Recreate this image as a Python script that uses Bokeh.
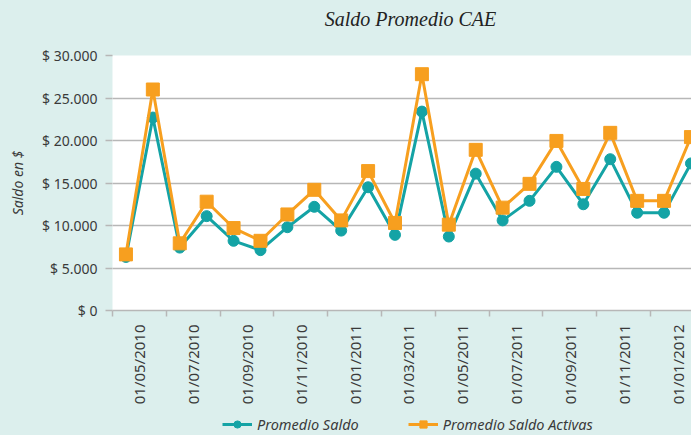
import math
from bokeh.plotting import figure
from bokeh.layouts import column
from bokeh.models import Range1d, FixedTicker, Legend, LegendItem, Label
from bokeh.embed import file_html
from bokeh.resources import INLINE

title_text = "Saldo Promedio CAE"
y_axis_title = "Saldo en $"
months = ["01/05/2010", "01/06/2010", "01/07/2010", "01/08/2010", "01/09/2010",
          "01/10/2010", "01/11/2010", "01/12/2010", "01/01/2011", "01/02/2011",
          "01/03/2011", "01/04/2011", "01/05/2011", "01/06/2011", "01/07/2011",
          "01/08/2011", "01/09/2011", "01/10/2011", "01/11/2011", "01/12/2011",
          "01/01/2012", "01/02/2012"]
promedio_saldo = [6300, 22700, 7400, 11100, 8200, 7100, 9800, 12200, 9400, 14500,
                  8900, 23400, 8700, 16100, 10600, 12900, 16900, 12500, 17800,
                  11500, 11500, 17300]
promedio_saldo_activas = [6600, 26000, 7900, 12800, 9700, 8200, 11300, 14200, 10600,
                          16400, 10300, 27800, 10100, 18900, 12100, 14900, 19950,
                          14300, 20900, 12900, 12900, 20400]
series_names = ["Promedio Saldo", "Promedio Saldo Activas"]
y_ticks = [0, 5000, 10000, 15000, 20000, 25000, 30000]
y_tick_labels = ["$ 0", "$ 5.000", "$ 10.000", "$ 15.000", "$ 20.000", "$ 25.000", "$ 30.000"]

BG = "#dcefed"
TEAL = "#14a3a5"
ORANGE = "#f79f1f"
GRID = "#b7b7b7"
TXT = "#3a3a3a"

x = list(range(len(months)))

# ---- title strip ----
pt = figure(width=691, height=40, output_backend="svg", toolbar_location=None,
            x_range=Range1d(0, 1), y_range=Range1d(0, 1),
            min_border=0, x_axis_type=None, y_axis_type=None)
pt.background_fill_color = BG
pt.border_fill_color = BG
pt.outline_line_color = None
pt.grid.visible = False
pt.add_layout(Label(x=298, y=22, x_units="screen", y_units="screen", text=title_text,
                    text_font="Liberation Serif", text_font_style="italic",
                    text_font_size="20px", text_color="#222222",
                    text_align="center", text_baseline="middle"))

# ---- main chart ----
p = figure(width=691, height=373, output_backend="svg", toolbar_location=None,
           x_range=Range1d(-0.5, 21.02), y_range=Range1d(0, 30000),
           min_border_left=112, min_border_right=0, min_border_top=15,
           min_border_bottom=103)
p.background_fill_color = "white"
p.border_fill_color = BG
p.outline_line_color = None

p.yaxis.ticker = FixedTicker(ticks=y_ticks)
p.yaxis.major_label_overrides = {t: l for t, l in zip(y_ticks, y_tick_labels)}
p.yaxis.axis_line_color = None
p.yaxis.major_tick_out = 7
p.yaxis.major_tick_in = 0
p.yaxis.major_tick_line_color = GRID
p.yaxis.major_tick_line_width = 1.5
p.yaxis.minor_tick_line_color = None
p.yaxis.major_label_text_font = "Noto Sans"
p.yaxis.major_label_text_font_size = "14px"
p.yaxis.major_label_text_color = TXT
p.yaxis.major_label_standoff = 8
p.yaxis.axis_label = y_axis_title
p.yaxis.axis_label_text_font = "Noto Sans"
p.yaxis.axis_label_text_font_style = "italic"
p.yaxis.axis_label_text_font_size = "14px"
p.yaxis.axis_label_text_color = TXT
p.yaxis.axis_label_standoff = 12

p.ygrid.ticker = FixedTicker(ticks=y_ticks)
p.ygrid.grid_line_color = GRID
p.ygrid.grid_line_width = 1.5
p.xgrid.grid_line_color = None

label_pos = [i + 0.5 for i in range(0, len(months), 2)]
bound_pos = [i - 0.5 for i in range(0, len(months) + 1, 2)]
p.xaxis.ticker = FixedTicker(ticks=label_pos, minor_ticks=bound_pos)
p.xaxis.major_label_overrides = {i + 0.5: months[i] for i in range(0, len(months), 2)}
p.xaxis.major_label_orientation = math.pi / 2
p.xaxis.major_tick_out = 0
p.xaxis.major_tick_in = 0
p.xaxis.minor_tick_out = 6
p.xaxis.minor_tick_in = 0
p.xaxis.minor_tick_line_color = GRID
p.xaxis.minor_tick_line_width = 1.5
p.xaxis.axis_line_color = GRID
p.xaxis.axis_line_width = 1.5
p.xaxis.major_label_text_font = "Noto Sans"
p.xaxis.major_label_text_font_size = "15px"
p.xaxis.major_label_text_color = TXT
p.xaxis.major_label_standoff = 8

p.line(x, promedio_saldo, line_color=TEAL, line_width=3)
p.scatter(x, promedio_saldo, marker="circle", size=11, fill_color=TEAL, line_color=TEAL)
p.line(x, promedio_saldo_activas, line_color=ORANGE, line_width=3)
p.scatter(x, promedio_saldo_activas, marker="square", size=13, fill_color=ORANGE, line_color=ORANGE)

# ---- legend strip (series drawn out of view so only the legend shows) ----
pl = figure(width=691, height=22, output_backend="svg", toolbar_location=None,
            x_range=Range1d(1000, 1001), y_range=Range1d(0, 1),
            min_border=0, x_axis_type=None, y_axis_type=None)
pl.background_fill_color = BG
pl.border_fill_color = BG
pl.outline_line_color = None
pl.grid.visible = False
l1 = pl.line(x, promedio_saldo, line_color=TEAL, line_width=3)
s1 = pl.scatter(x, promedio_saldo, marker="circle", size=11, fill_color=TEAL, line_color=TEAL)
l2 = pl.line(x, promedio_saldo_activas, line_color=ORANGE, line_width=3)
s2 = pl.scatter(x, promedio_saldo_activas, marker="square", size=13, fill_color=ORANGE, line_color=ORANGE)

legend = Legend(items=[LegendItem(label=series_names[0], renderers=[l1, s1]),
                       LegendItem(label=series_names[1], renderers=[l2, s2])],
                orientation="horizontal", location=(110, 1))
legend.background_fill_alpha = 0
legend.border_line_alpha = 0
legend.label_text_font = "Noto Sans"
legend.label_text_font_style = "italic"
legend.label_text_font_size = "14.5px"
legend.label_text_color = TXT
legend.glyph_width = 30
legend.glyph_height = 18
legend.label_standoff = 5
legend.spacing = 49
legend.padding = 0
legend.margin = 0
pl.add_layout(legend, "center")

layout = column(pt, p, pl, spacing=0, styles={"background-color": BG})
html = file_html(layout, INLINE, title=title_text)
html = html.replace("<body>", '<body style="background-color:%s;">' % BG, 1)
open("out.html", "w").write(html)
